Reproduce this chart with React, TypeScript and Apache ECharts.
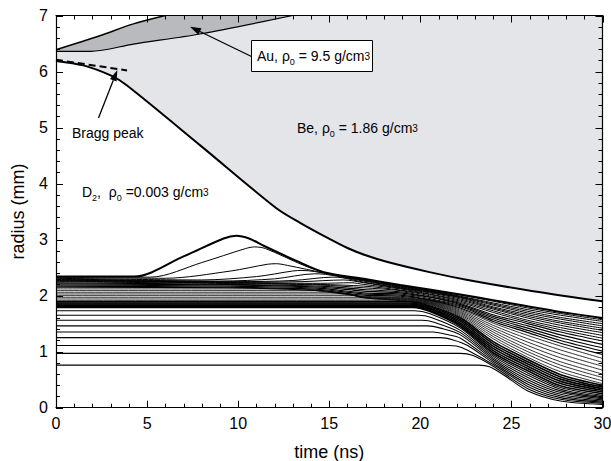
import React, { useEffect, useRef } from "react";
import * as echarts from "echarts";

// ---- axis ranges and ticks ----
const xRange = [0, 30];
const yRange = [0, 7];
const xMajorTicks = [0, 5, 10, 15, 20, 25, 30];
const yMajorTicks = [0, 1, 2, 3, 4, 5, 6, 7];
const minorPerMajor = 5;

// ---- material boundaries (time ns, radius mm) ----
const beInner: number[][] = [
  [0, 6.19], [1.5, 6.11], [3, 5.93], [3.9, 5.75], [8, 4.66], [12.1, 3.56], [13.4, 3.3], [14.8, 3.05],
  [16.0, 2.85], [17.0, 2.72], [18.2, 2.6], [20.5, 2.42], [22.6, 2.28], [26.2, 2.08], [30, 1.9],
];
const auInner: number[][] = [[0, 6.36], [1.9, 6.36], [4.25, 6.49], [7.9, 6.67], [13.0, 7.0]];
const auOuter: number[][] = [[0, 6.39], [2.4, 6.64], [4.25, 6.85], [6.0, 7.0]];
const braggDashed: number[][] = [[0, 6.21], [3.9, 6.02]];

// ---- D2 Lagrangian trajectories: lines that bulge near the shell ----
const risingLines: number[][][] = [
  [[0, 2.34], [4.3, 2.34], [7, 2.7], [9.2, 3.02], [9.9, 3.07], [10.6, 3.02], [11.4, 2.89], [13.2, 2.62], [14.7, 2.42], [16.9, 2.3], [18.9, 2.19], [20.5, 2.11], [22.2, 2.02], [24, 1.92], [25.9, 1.81], [27.7, 1.71], [30, 1.6]],
  [[0, 2.33], [5.2, 2.33], [8, 2.59], [10.4, 2.84], [10.9, 2.87], [11.5, 2.84], [13.6, 2.54], [14.8, 2.41], [16.9, 2.29], [18.9, 2.18], [20.5, 2.1], [22.2, 2.01], [24, 1.9], [25.9, 1.78], [27.7, 1.68], [30, 1.57]],
  [[0, 2.32], [6, 2.31], [9.6, 2.44], [11.6, 2.56], [12.1, 2.57], [12.7, 2.54], [14.8, 2.4], [16.9, 2.28], [18.9, 2.17], [20.5, 2.09], [22.2, 1.99], [24, 1.87], [25.9, 1.75], [27.7, 1.65], [30, 1.54]],
  [[0, 2.31], [8, 2.28], [11, 2.34], [13, 2.44], [13.5, 2.45], [14.2, 2.43], [16.9, 2.27], [18.9, 2.16], [20.5, 2.08], [22.2, 1.98], [24, 1.85], [25.9, 1.72], [27.7, 1.61], [30, 1.5]],
  [[0, 2.3], [9, 2.26], [12, 2.3], [14.2, 2.39], [14.8, 2.38], [16.9, 2.26], [18.9, 2.15], [20.5, 2.07], [22.2, 1.97], [24, 1.83], [25.9, 1.69], [27.7, 1.58], [30, 1.46]],
  [[0, 2.29], [10, 2.25], [13, 2.27], [15.2, 2.33], [15.7, 2.32], [16.9, 2.24], [18.9, 2.14], [20.5, 2.06], [22.2, 1.96], [24, 1.8], [25.9, 1.66], [27.7, 1.54], [30, 1.42]],
  [[0, 2.28], [10.5, 2.24], [13.5, 2.25], [15.8, 2.28], [16.9, 2.23], [18.9, 2.13], [20.5, 2.05], [22.2, 1.94], [24, 1.78], [25.9, 1.63], [27.7, 1.51], [30, 1.38]],
  [[0, 2.27], [11, 2.23], [14.5, 2.22], [16.2, 2.23], [16.9, 2.2], [18.9, 2.12], [20.5, 2.03], [22.2, 1.92], [24, 1.76], [25.9, 1.6], [27.7, 1.47], [30, 1.34]],
  [[0, 2.26], [11, 2.22], [14.5, 2.2], [16.9, 2.17], [18.9, 2.1], [20.5, 2.02], [22.2, 1.9], [24, 1.73], [25.9, 1.56], [27.7, 1.43], [30, 1.29]],
  [[0, 2.25], [11, 2.21], [14.5, 2.19], [16.9, 2.14], [18.9, 2.09], [20.5, 2.0], [22.2, 1.88], [24, 1.7], [25.9, 1.53], [27.7, 1.39], [30, 1.24]],
];

// ---- upper dense band ----
const upperBand: number[][][] = [
  [[0, 2.23], [9.5, 2.2], [14.5, 2.17], [16.9, 2.11], [18.9, 2.07], [20.5, 1.98], [22.2, 1.86], [24, 1.66], [25.9, 1.5], [27.7, 1.35], [30, 1.19]],
  [[0, 2.21], [9.5, 2.19], [14.5, 2.15], [16.9, 2.08], [18.9, 2.05], [20.5, 1.97], [22.2, 1.84], [24, 1.63], [25.9, 1.46], [27.7, 1.3], [30, 1.13]],
  [[0, 2.19], [9.5, 2.17], [14.5, 2.13], [16.9, 2.05], [18.9, 2.03], [20.5, 1.95], [22.2, 1.82], [24, 1.6], [25.9, 1.42], [27.7, 1.25], [30, 1.07]],
  [[0, 2.17], [9.5, 2.15], [14.5, 2.11], [16.9, 2.03], [18.9, 2.01], [20.5, 1.93], [22.2, 1.8], [24, 1.57], [25.9, 1.38], [27.7, 1.2], [30, 1.01]],
  [[0, 2.15], [9.5, 2.14], [14.5, 2.09], [16.9, 2.01], [18.9, 1.99], [20.5, 1.92], [22.2, 1.78], [24, 1.54], [25.9, 1.34], [27.7, 1.15], [30, 0.95]],
];

// ---- grey (looser) band ----
const middleBand: number[][][] = [
  [[0, 2.12], [13.5, 2.12], [14.5, 2.08], [16.9, 1.99], [18.9, 1.97], [20.5, 1.91], [22.2, 1.76], [24, 1.51], [25.9, 1.29], [27.7, 1.1], [30, 0.88]],
  [[0, 2.09], [14.6, 2.09], [15.5, 2.05], [16.9, 1.98], [18.9, 1.96], [20.5, 1.9], [22.2, 1.74], [24, 1.47], [25.9, 1.23], [27.7, 1.03], [30, 0.81]],
  [[0, 2.06], [15.3, 2.06], [16.2, 2.02], [16.9, 1.97], [18.9, 1.95], [20.5, 1.89], [22.2, 1.72], [24, 1.43], [25.9, 1.17], [27.7, 0.96], [30, 0.74]],
  [[0, 2.03], [15.9, 2.03], [16.9, 1.96], [18.9, 1.94], [20.5, 1.88], [22.2, 1.7], [24, 1.39], [25.9, 1.11], [27.7, 0.89], [30, 0.67]],
  [[0, 2.0], [16.3, 2.0], [17.2, 1.95], [18.9, 1.93], [20.5, 1.87], [22.2, 1.68], [24, 1.35], [25.9, 1.05], [27.7, 0.82], [30, 0.6]],
  [[0, 1.97], [16.8, 1.97], [17.6, 1.94], [18.9, 1.92], [20.5, 1.86], [22.2, 1.66], [24, 1.31], [25.9, 1.0], [27.7, 0.76], [30, 0.54]],
  [[0, 1.94], [17.6, 1.94], [18.9, 1.91], [20.5, 1.85], [22.2, 1.64], [24, 1.27], [25.9, 0.95], [27.7, 0.7], [30, 0.48]],
  [[0, 1.91], [18.4, 1.91], [19.2, 1.9], [20.5, 1.84], [22.2, 1.62], [24, 1.23], [25.9, 0.9], [27.7, 0.64], [30, 0.43]],
];

// ---- lower dense band ----
const lowerBand: number[][][] = [
  [[0, 1.89], [19.3, 1.89], [20.5, 1.82], [22.2, 1.6], [24, 1.18], [25.9, 0.86], [27.7, 0.59], [30, 0.4]],
  [[0, 1.87], [19.4, 1.87], [20.5, 1.8], [22.2, 1.57], [24, 1.14], [25.9, 0.82], [27.7, 0.55], [30, 0.37]],
  [[0, 1.85], [19.4, 1.85], [20.5, 1.78], [22.2, 1.54], [24, 1.1], [25.9, 0.78], [27.7, 0.51], [30, 0.34]],
  [[0, 1.83], [19.5, 1.83], [20.5, 1.76], [22.2, 1.51], [24, 1.06], [25.9, 0.74], [27.7, 0.47], [30, 0.31]],
  [[0, 1.81], [19.5, 1.81], [20.5, 1.74], [22.2, 1.48], [24, 1.02], [25.9, 0.7], [27.7, 0.43], [30, 0.28]],
  [[0, 1.79], [19.6, 1.79], [20.5, 1.72], [22.2, 1.45], [24, 0.98], [25.9, 0.66], [27.7, 0.39], [30, 0.25]],
];

// ---- inner, widely spaced lines ----
const innerLines: number[][][] = [
  [[0, 1.73], [19.7, 1.73], [20.5, 1.68], [22.2, 1.42], [24, 0.95], [25.9, 0.62], [27.7, 0.36], [30, 0.22]],
  [[0, 1.65], [19.9, 1.65], [20.6, 1.61], [22.2, 1.38], [24, 0.92], [25.9, 0.58], [27.7, 0.33], [30, 0.2]],
  [[0, 1.56], [20.1, 1.56], [20.8, 1.52], [22.2, 1.34], [24, 0.89], [25.9, 0.54], [27.7, 0.3], [30, 0.18]],
  [[0, 1.46], [20.4, 1.46], [21.1, 1.42], [22.2, 1.3], [24, 0.86], [25.9, 0.5], [27.7, 0.27], [30, 0.16]],
  [[0, 1.35], [20.7, 1.35], [21.4, 1.31], [22.2, 1.24], [24, 0.83], [25.9, 0.46], [27.7, 0.24], [30, 0.14]],
  [[0, 1.25], [21.1, 1.25], [21.8, 1.21], [22.6, 1.11], [24, 0.8], [25.9, 0.42], [27.7, 0.21], [30, 0.12]],
  [[0, 1.11], [21.6, 1.11], [22.3, 1.07], [24, 0.77], [25.9, 0.38], [27.7, 0.18], [30, 0.1]],
  [[0, 0.97], [22.2, 0.97], [22.9, 0.93], [24, 0.74], [25.9, 0.34], [27.7, 0.15], [30, 0.08]],
  [[0, 0.76], [23.2, 0.76], [23.8, 0.73], [24.6, 0.58], [25.9, 0.3], [27.7, 0.12], [30, 0.06]],
];

const FONT = "'Liberation Sans', Arial, Helvetica, sans-serif";

function arrow(x1: number, y1: number, x2: number, y2: number) {
  const dx = x2 - x1, dy = y2 - y1;
  const len = Math.hypot(dx, dy);
  const ux = dx / len, uy = dy / len;
  const L = 11, W = 3.6;
  const bx = x2 - ux * L, by = y2 - uy * L;
  return [
    { type: "line", z: 100, shape: { x1, y1, x2: bx, y2: by }, style: { stroke: "#000", lineWidth: 1.3 } },
    {
      type: "polygon", z: 100,
      shape: { points: [[x2, y2], [bx - uy * W, by + ux * W], [bx + uy * W, by - ux * W]] },
      style: { fill: "#000" },
    },
  ];
}

const rich = {
  n: { fontSize: 14, fontFamily: FONT, fill: "#000" },
  s: { fontSize: 9, fontFamily: FONT, fill: "#000", verticalAlign: "bottom", padding: [0, 0, -3, 0] },
  p: { fontSize: 10, fontFamily: FONT, fill: "#000" },
};

function subdivide(major: number[]) {
  const out: number[] = [];
  for (let i = 0; i < major.length - 1; i++) {
    const step = (major[i + 1] - major[i]) / minorPerMajor;
    for (let k = 1; k < minorPerMajor; k++) out.push(major[i] + step * k);
  }
  return out;
}

export default function App() {
  const ref = useRef<HTMLDivElement>(null);
  useEffect(() => {
    if (!ref.current) return;
    const chart = echarts.init(ref.current, undefined, { renderer: "svg" });
    const meshLine = (data: number[][], width = 1) => ({
      type: "line", data, symbol: "none", showSymbol: false, smooth: 0.3, silent: true, z: 5,
      lineStyle: { color: "#000", width },
    });
    const axisBase = {
      type: "value",
      axisLine: { show: true, onZero: false, lineStyle: { color: "#000", width: 1.2 } },
      axisTick: { show: false },
      minorTick: { show: false },
      splitLine: { show: false },
      minorSplitLine: { show: false },
      z: 10,
    };
    const series: any[] = [
      {
        type: "line", data: beInner, symbol: "none", smooth: 0.3, silent: true, z: 2,
        lineStyle: { color: "#000", width: 2 },
        areaStyle: { color: "#e4e5e8", opacity: 1, origin: "end" },
      },
      {
        type: "line", data: auInner, symbol: "none", smooth: 0.3, silent: true, z: 3,
        lineStyle: { color: "#000", width: 1.2 },
        areaStyle: { color: "#b9babd", opacity: 1, origin: "end" },
      },
      {
        type: "line", data: auOuter, symbol: "none", smooth: 0.3, silent: true, z: 4,
        lineStyle: { color: "#000", width: 1.5 },
        areaStyle: { color: "#ffffff", opacity: 1, origin: "end" },
      },
      {
        type: "line", data: braggDashed, symbol: "none", silent: true, z: 6,
        lineStyle: { color: "#000", width: 2, type: [7, 4] },
      },
      ...risingLines.map((d, i) => meshLine(d, i === 0 ? 2 : 1)),
      ...upperBand.map((d) => meshLine(d, 1.1)),
      ...middleBand.map((d) => meshLine(d, 0.8)),
      ...lowerBand.map((d) => meshLine(d, 1.6)),
      ...innerLines.map((d) => meshLine(d, 1.1)),
    ];
    chart.setOption({
      animation: false,
      grid: { left: 56, right: 8.5, top: 15.5, bottom: 53.3, containLabel: false, outerBoundsMode: "none" },
      xAxis: [
        {
          ...axisBase, min: xRange[0], max: xRange[1], interval: 5, position: "bottom",
          name: "time (ns)", nameLocation: "middle", nameGap: 35,
          nameTextStyle: { fontSize: 18, lineHeight: 18, color: "#000", fontFamily: FONT },
          axisLabel: { fontSize: 16, color: "#000", margin: 8, fontFamily: FONT },
        },
        { ...axisBase, min: xRange[0], max: xRange[1], interval: 5, position: "top", axisLabel: { show: false } },
      ],
      yAxis: [
        {
          ...axisBase, min: yRange[0], max: yRange[1], interval: 1, position: "left",
          name: "radius (mm)", nameLocation: "middle", nameGap: 29,
          nameTextStyle: { fontSize: 18, color: "#000", fontFamily: FONT },
          axisLabel: { fontSize: 16, color: "#000", margin: 8, fontFamily: FONT },
        },
        { ...axisBase, min: yRange[0], max: yRange[1], interval: 1, position: "right", axisLabel: { show: false } },
      ],
      series,
    });

    // tick marks on all four sides, placed through the grid's own scales
    const toPx = (x: number, y: number) => chart.convertToPixel({ gridIndex: 0 }, [x, y]) as number[];
    const [left, bottom] = toPx(xRange[0], yRange[0]);
    const [right, top] = toPx(xRange[1], yRange[1]);
    const ticks: any[] = [];
    const tl = (x1: number, y1: number, x2: number, y2: number) =>
      ticks.push({ type: "line", z: 60, silent: true, shape: { x1, y1, x2, y2 }, style: { stroke: "#000", lineWidth: 1 } });
    const addX = (vals: number[], len: number) => vals.forEach((v) => {
      const p = Math.round(toPx(v, 0)[0]) + 0.5;
      tl(p, bottom, p, bottom - len);
      tl(p, top, p, top + len);
    });
    const addY = (vals: number[], len: number) => vals.forEach((v) => {
      const p = Math.round(toPx(0, v)[1]) + 0.5;
      tl(left, p, left + len, p);
      tl(right, p, right - len, p);
    });
    addX(xMajorTicks, 7);
    addX(subdivide(xMajorTicks), 4);
    addY(yMajorTicks, 7);
    addY(subdivide(yMajorTicks), 4);

    chart.setOption({
      graphic: [
        ...ticks,
        { type: "rect", z: 100, shape: { x: 251.5, y: 40.5, width: 121, height: 31 }, style: { fill: "#fff", stroke: "#000", lineWidth: 1 } },
        { type: "text", z: 101, style: { x: 257, y: 56, text: "{n|Au, ρ}{s|0}{n| = 9.5 g/cm}{p|3}", rich, verticalAlign: "middle", align: "left" } },
        ...arrow(251.5, 56.5, 190, 26.7),
        { type: "text", z: 101, style: { x: 72, y: 133, text: "Bragg peak", fontSize: 14, fontFamily: FONT, fill: "#000", verticalAlign: "middle", align: "left" } },
        ...arrow(98.5, 118, 117.3, 70),
        { type: "text", z: 101, style: { x: 82, y: 192, text: "{n|D}{s|2}{n|,  ρ}{s|0}{n| =0.003 g/cm}{p|3}", rich, verticalAlign: "middle", align: "left" } },
        { type: "text", z: 101, style: { x: 297, y: 128, text: "{n|Be, ρ}{s|0}{n| = 1.86 g/cm}{p|3}", rich, verticalAlign: "middle", align: "left" } },
      ],
    });
    return () => chart.dispose();
  }, []);
  return <div ref={ref} style={{ position: "fixed", left: 0, top: 0, width: 611, height: 461, background: "#fff" }} />;
}
